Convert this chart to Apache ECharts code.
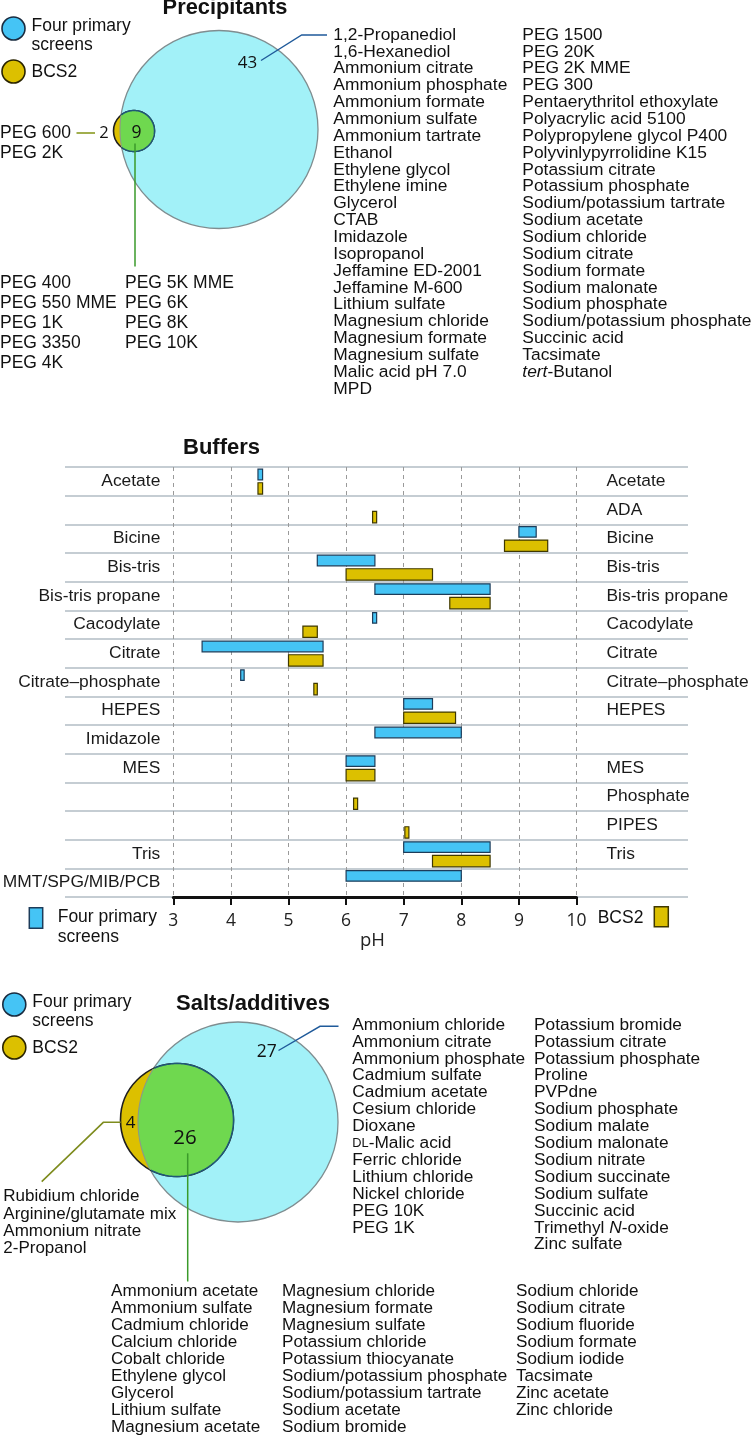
<!DOCTYPE html>
<html><head><meta charset="utf-8">
<script src="https://cdn.jsdelivr.net/npm/echarts@6/dist/echarts.min.js"></script>
<style>html,body{margin:0;padding:0;background:#fff}#c{width:756px;height:1437px}</style>
</head><body><div id="c"></div>
<script>
// ---------------- DATA ----------------
const setNames = ['Four primary', 'screens', 'BCS2'];

const precipTitle = 'Precipitants';
const precipCounts = [43, 9, 2]; // primary only, both, BCS2 only
const precipPrimaryOnlyA = ['1,2-Propanediol','1,6-Hexanediol','Ammonium citrate','Ammonium phosphate','Ammonium formate','Ammonium sulfate','Ammonium tartrate','Ethanol','Ethylene glycol','Ethylene imine','Glycerol','CTAB','Imidazole','Isopropanol','Jeffamine ED-2001','Jeffamine M-600','Lithium sulfate','Magnesium chloride','Magnesium formate','Magnesium sulfate','Malic acid pH 7.0','MPD'];
const precipPrimaryOnlyB = ['PEG 1500','PEG 20K','PEG 2K MME','PEG 300','Pentaerythritol ethoxylate','Polyacrylic acid 5100','Polypropylene glycol P400','Polyvinlypyrrolidine K15','Potassium citrate','Potassium phosphate','Sodium/potassium tartrate','Sodium acetate','Sodium chloride','Sodium citrate','Sodium formate','Sodium malonate','Sodium phosphate','Sodium/potassium phosphate','Succinic acid','Tacsimate','tert-Butanol'];
const precipBothA = ['PEG 400','PEG 550 MME','PEG 1K','PEG 3350','PEG 4K'];
const precipBothB = ['PEG 5K MME','PEG 6K','PEG 8K','PEG 10K'];
const precipBcs2Only = ['PEG 600','PEG 2K'];

const bufferTitle = 'Buffers';
const bufferRows = ['Acetate','ADA','Bicine','Bis-tris','Bis-tris propane','Cacodylate','Citrate','Citrate–phosphate','HEPES','Imidazole','MES','Phosphate','PIPES','Tris','MMT/SPG/MIB/PCB'];
const bufferLeftLabels = ['Acetate','','Bicine','Bis-tris','Bis-tris propane','Cacodylate','Citrate','Citrate–phosphate','HEPES','Imidazole','MES','','','Tris','MMT/SPG/MIB/PCB'];
const bufferRightLabels = ['Acetate','ADA','Bicine','Bis-tris','Bis-tris propane','Cacodylate','Citrate','Citrate–phosphate','HEPES','','MES','Phosphate','PIPES','Tris',''];
const primaryFrom = [4.47, null, 9.0, 5.5, 6.5, 6.46, 3.5, 4.17, 7.0, 6.5, 6.0, null, null, 7.0, 6.0];
const primaryTo   = [4.55, null, 9.3, 6.5, 8.5, 6.53, 5.6, 4.23, 7.5, 8.0, 6.5, null, null, 8.5, 8.0];
const bcs2From    = [4.47, 6.46, 8.75, 6.0, 7.8, 5.25, 5.0, 5.44, 7.0, null, 6.0, 6.13, 7.02, 7.5, null];
const bcs2To      = [4.55, 6.53, 9.5, 7.5, 8.5, 5.5, 5.6, 5.5, 7.9, null, 6.5, 6.2, 7.09, 8.5, null];
const phMin = 3, phMax = 10, phStep = 1;
const phName = 'pH';

const saltTitle = 'Salts/additives';
const saltCounts = [27, 26, 4];
const saltPrimaryOnlyA = ['Ammonium chloride','Ammonium citrate','Ammonium phosphate','Cadmium sulfate','Cadmium acetate','Cesium chloride','Dioxane','DL-Malic acid','Ferric chloride','Lithium chloride','Nickel chloride','PEG 10K','PEG 1K'];
const saltPrimaryOnlyB = ['Potassium bromide','Potassium citrate','Potassium phosphate','Proline','PVPdne','Sodium phosphate','Sodium malate','Sodium malonate','Sodium nitrate','Sodium succinate','Sodium sulfate','Succinic acid','Trimethyl N-oxide','Zinc sulfate'];
const saltBothA = ['Ammonium acetate','Ammonium sulfate','Cadmium chloride','Calcium chloride','Cobalt chloride','Ethylene glycol','Glycerol','Lithium sulfate','Magnesium acetate'];
const saltBothB = ['Magnesium chloride','Magnesium formate','Magnesium sulfate','Potassium chloride','Potassium thiocyanate','Sodium/potassium phosphate','Sodium/potassium tartrate','Sodium acetate','Sodium bromide'];
const saltBothC = ['Sodium chloride','Sodium citrate','Sodium fluoride','Sodium formate','Sodium iodide','Tacsimate','Zinc acetate','Zinc chloride'];
const saltBcs2Only = ['Rubidium chloride','Arginine/glutamate mix','Ammonium nitrate','2-Propanol'];

// ---------------- STYLE ----------------
const SANS = '"Liberation Sans", Arial, Helvetica, sans-serif';
const NUM = '"Open Sans", "Liberation Sans", sans-serif';
const INK = '#111';
const C_BLUE = '#45c4f5', C_BLUE_BD = '#1d3c5a';
const C_YEL = '#dcc000', C_YEL_BD = '#3f3800';
const C_CYAN = '#a2f1f8', C_GREEN = '#6fd84f';

const G = [];
function richify(s, size) {
  let t = null;
  if (s.indexOf('tert-') === 0) t = '{i|tert}{n|' + s.slice(4) + '}';
  else if (s.indexOf(' N-') >= 0) { const m = s.indexOf(' N-'); t = '{n|' + s.slice(0, m + 1) + '}{i|N}{n|' + s.slice(m + 2) + '}'; }
  else if (s.indexOf('DL-') === 0) t = '{s|DL}{n|' + s.slice(2) + '}';
  if (!t) return null;
  return { text: t, rich: {
    n: { fontSize: size, fontFamily: SANS, fill: INK },
    i: { fontSize: size, fontFamily: SANS, fontStyle: 'italic', fill: INK },
    s: { fontSize: size * 0.74, fontFamily: SANS, fill: INK }
  } };
}
function txt(x, y, s, size, o) {
  o = o || {};
  const style = { text: s, font: (o.bold ? 'bold ' : '') + size + 'px ' + (o.fam || SANS), fill: o.fill || INK,
    textAlign: o.align || 'left', textVerticalAlign: 'middle' };
  const r = o.plain ? null : richify(s, size);
  if (r) { style.text = r.text; style.rich = r.rich; }
  G.push({ type: 'text', x: x, y: y, silent: true, z: 10, style: style });
}
function list(items, x, y0, dy, size) { items.forEach((s, i) => txt(x, y0 + i * dy, s, size)); }
function line(pts, color, w) { G.push({ type: 'polyline', silent: true, z: 9, shape: { points: pts }, style: { stroke: color, lineWidth: w || 1.3, fill: null } }); }
function circle(cx, cy, r, fill, stroke, w, z) { G.push({ type: 'circle', silent: true, z: z || 1, shape: { cx: cx, cy: cy, r: r }, style: { fill: fill, stroke: stroke, lineWidth: w || 1.2 } }); }
function legend(x, y) {
  circle(x, y, 11.5, C_BLUE, '#1a2c40', 1.6, 5);
  txt(x + 18, y - 2, setNames[0], 17.5);
  txt(x + 18, y + 16.5, setNames[1], 17.5);
  circle(x, y + 43, 11.5, C_YEL, '#2a2400', 1.6, 5);
  txt(x + 18, y + 44, setNames[2], 17.5);
}
// venn of big circle A and small circle B; green = B inside A
function venn(A, B) {
  circle(A.x, A.y, A.r, C_CYAN, '#7f8d90', 1.3, 1);
  circle(B.x, B.y, B.r, C_YEL, '#1e1e1e', 1.6, 2);
  const th0 = Math.atan2(A.y - B.y, A.x - B.x) + Math.PI;
  const n = 240, poly = [], inner = [], outerHead = [], outerTail = [];
  let seenInner = false;
  for (let k = 0; k <= n; k++) {
    const a = th0 + 2 * Math.PI * k / n;
    let p = [B.x + B.r * Math.cos(a), B.y + B.r * Math.sin(a)];
    const d = Math.hypot(p[0] - A.x, p[1] - A.y);
    if (d > A.r) {
      p = [A.x + (p[0] - A.x) * A.r / d, A.y + (p[1] - A.y) * A.r / d];
      (seenInner ? outerTail : outerHead).push(p);
    } else { inner.push(p); seenInner = true; }
    poly.push(p);
  }
  G.push({ type: 'polygon', silent: true, z: 3, shape: { points: poly }, style: { fill: C_GREEN, stroke: null } });
  line(inner, '#1f5878', 1.5);
  line(outerTail.concat(outerHead), '#8c9a88', 1.1);
}

// ---------- Precipitants ----------
txt(225, 8, precipTitle, 21.8, { bold: true, align: 'center', plain: true });
legend(13.5, 28.5);
venn({ x: 219, y: 129.5, r: 99 }, { x: 134, y: 131, r: 20.5 });
txt(247.5, 63.5, String(precipCounts[0]), 17, { fam: NUM, align: 'center' });
txt(136.5, 133, String(precipCounts[1]), 17.5, { fam: NUM, align: 'center' });
txt(104, 133, String(precipCounts[2]), 16.5, { fam: NUM, align: 'center' });
line([[261, 60.5], [301.7, 35], [327, 35]], '#1f5a9a', 1.4);
line([[76.5, 133], [95, 133]], '#8a9a22', 1.6);
line([[135, 143.5], [135, 266.5]], '#3a9a2a', 1.5);
list(precipBcs2Only, 0, 133.3, 20, 17.5);
list(precipBothA, 0, 283.3, 20, 17.5);
list(precipBothB, 125, 283.3, 20, 17.5);
list(precipPrimaryOnlyA, 333.3, 35, 16.85, 17.4);
list(precipPrimaryOnlyB, 522.3, 35, 16.85, 17.4);

// ---------- Buffers ----------
txt(221.5, 448, bufferTitle, 22, { bold: true, align: 'center', plain: true });
G.push({ type: 'rect', silent: true, z: 5, shape: { x: 29.3, y: 907.7, width: 13.4, height: 20.6 }, style: { fill: C_BLUE, stroke: C_BLUE_BD, lineWidth: 1.5 } });
txt(57.7, 917.3, setNames[0], 17.5);
txt(57.7, 937.3, setNames[1], 17.5);
G.push({ type: 'rect', silent: true, z: 5, shape: { x: 654.3, y: 906.7, width: 14, height: 20 }, style: { fill: C_YEL, stroke: C_YEL_BD, lineWidth: 1.5 } });
txt(597.7, 918.3, setNames[2], 17.5);

// ---------- Salts/additives ----------
txt(253, 1003.5, saltTitle, 22, { bold: true, align: 'center', plain: true });
legend(14.3, 1004.5);
venn({ x: 238, y: 1122, r: 100 }, { x: 177, y: 1120, r: 56.5 });
txt(266.7, 1052, String(saltCounts[0]), 17.5, { fam: NUM, align: 'center' });
txt(185, 1138, String(saltCounts[1]), 20.5, { fam: NUM, align: 'center' });
txt(130.5, 1123.5, String(saltCounts[2]), 17, { fam: NUM, align: 'center' });
line([[278.5, 1050.5], [320, 1026.3], [338.5, 1026.3]], '#1f5a9a', 1.4);
line([[120.7, 1122.3], [103.3, 1122.3], [41.7, 1181.7]], '#7e8c1e', 1.6);
line([[187.7, 1153.3], [187.7, 1281.5]], '#3a9a2a', 1.5);
list(saltBcs2Only, 3.3, 1196.7, 17.2, 17);
list(saltPrimaryOnlyA, 352.3, 1025, 16.9, 17.3);
list(saltPrimaryOnlyB, 534, 1025, 16.9, 17.3);
list(saltBothA, 111, 1291.7, 16.9, 17.1);
list(saltBothB, 282, 1291.7, 16.9, 17.1);
list(saltBothC, 516, 1291.7, 16.9, 17.1);

// ---------------- CHART ----------------
const primaryData = [], bcs2Data = [];
bufferRows.forEach((r, i) => {
  if (primaryFrom[i] != null) primaryData.push([i, primaryFrom[i], primaryTo[i]]);
  if (bcs2From[i] != null) bcs2Data.push([i, bcs2From[i], bcs2To[i]]);
});
function barRender(kind) {
  return function (params, api) {
    const c = api.value(0);
    const a = api.coord([api.value(1), c]);
    const b = api.coord([api.value(2), c]);
    const band = api.size([0, 1])[1];
    const top = kind === 0 ? a[1] - band / 2 + 2.2 : a[1] + 1.4;
    const h = kind === 0 ? 10.6 : 11.4;
    return { type: 'rect', shape: { x: a[0], y: top, width: Math.max(b[0] - a[0], 3), height: h },
      style: { fill: kind === 0 ? C_BLUE : C_YEL, stroke: kind === 0 ? C_BLUE_BD : C_YEL_BD, lineWidth: 1.2 } };
  };
}
const catCommon = { type: 'category', data: bufferRows, inverse: true, axisLine: { show: false }, axisTick: { show: false } };
const lblStyle = { fontSize: 17.4, fontFamily: SANS, color: '#1a1a1a', interval: 0 };

const chart = echarts.init(document.getElementById('c'), null, { renderer: 'canvas' });
chart.setOption({
  animation: false,
  backgroundColor: '#fff',
  grid: [
    { left: 65, right: 68, top: 467, height: 430, containLabel: false, outerBoundsMode: 'none' },
    { left: 173.3, right: 179.5, top: 467, height: 430, containLabel: false, outerBoundsMode: 'none' }
  ],
  xAxis: [
    { gridIndex: 0, type: 'value', min: 0, max: 1, show: false },
    { gridIndex: 1, type: 'value', min: phMin, max: phMax, interval: phStep,
      axisLine: { show: true, lineStyle: { color: '#111', width: 3 } },
      axisTick: { show: true, length: 8, lineStyle: { color: '#111', width: 2 } },
      axisLabel: { margin: 15, fontSize: 17.5, fontFamily: NUM, color: '#222' },
      splitLine: { show: true, lineStyle: { type: [4, 4], color: '#9a9a9a', width: 1 } },
      name: phName, nameLocation: 'middle', nameGap: 32, nameTextStyle: { fontSize: 18.5, fontFamily: NUM, color: '#222', padding: [0, 5, 0, 0] } }
  ],
  yAxis: [
    Object.assign({}, catCommon, { gridIndex: 0, axisLabel: { show: false, interval: 0 },
      splitLine: { show: true, interval: 0, lineStyle: { color: '#b2bdc5', width: 1.5 } } }),
    Object.assign({}, catCommon, { gridIndex: 1, position: 'left', splitLine: { show: false },
      axisLabel: Object.assign({}, lblStyle, { margin: 13, formatter: (v, i) => bufferLeftLabels[i] }) }),
    Object.assign({}, catCommon, { gridIndex: 1, position: 'right', splitLine: { show: false },
      axisLabel: Object.assign({}, lblStyle, { margin: 30, align: 'left', formatter: (v, i) => bufferRightLabels[i] }) })
  ],
  series: [
    { type: 'custom', name: setNames[0], xAxisIndex: 1, yAxisIndex: 1, renderItem: barRender(0), data: primaryData, encode: { x: [1, 2], y: 0 }, z: 5 },
    { type: 'custom', name: setNames[2], xAxisIndex: 1, yAxisIndex: 1, renderItem: barRender(1), data: bcs2Data, encode: { x: [1, 2], y: 0 }, z: 5 }
  ],
  graphic: { elements: G }
});
</script></body></html>
